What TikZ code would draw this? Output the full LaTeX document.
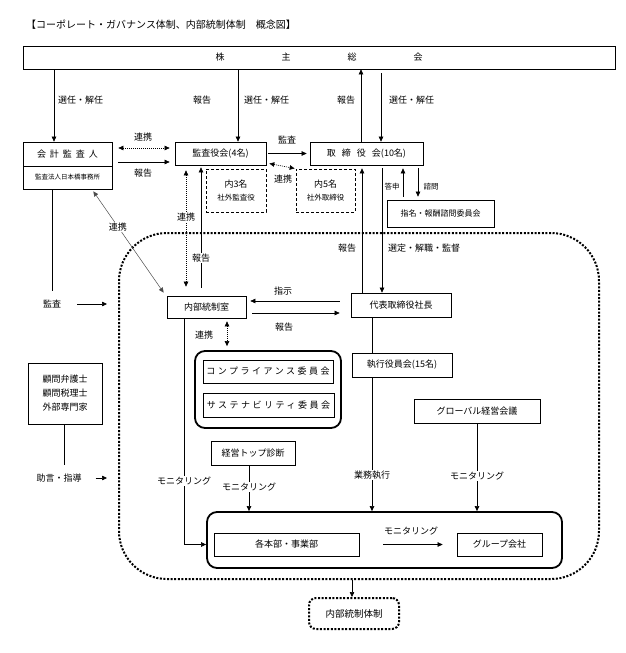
\documentclass[tikz,border=0pt]{standalone}
\usepackage{fontspec}
\setmainfont{Noto Sans CJK JP}
\newfontfamily\jpwide{Noto Sans CJK JP}[LetterSpace=28]
\usetikzlibrary{arrows.meta}

\tikzset{
  box/.style={draw, line width=0.7pt, inner sep=0pt, font=\fontsize{9}{11}\selectfont},
  dbox/.style={box, dash pattern=on 3pt off 2pt},
  grp/.style={draw, line width=1.8pt, rounded corners=10pt, inner sep=0pt},
  lbl/.style={font=\fontsize{9}{11}\selectfont, inner sep=1pt},
  wlbl/.style={lbl, fill=white, text=black},
  arr/.style={-{Triangle[length=5pt,width=4.5pt]}, line width=0.6pt},
  darr/.style={{Triangle[length=5pt,width=4.5pt]}-{Triangle[length=5pt,width=4.5pt]}, line width=0.6pt, dash pattern=on 1pt off 1pt},
  garr/.style={{Triangle[length=5pt,width=4.5pt]}-{Triangle[length=5pt,width=4.5pt]}, line width=0.5pt, gray!60!black},
  dotarea/.style={draw, line width=2pt, dash pattern=on 2pt off 1.6pt, inner sep=0pt},
}

\begin{document}
\begin{tikzpicture}[x=1pt, y=-1pt]
    \useasboundingbox (0,0) rectangle (625,653);

    % Title
    \node[anchor=west, inner sep=0pt, font=\fontsize{10}{12}\selectfont] (title) at (26,25)
        {【コーポレート・ガバナンス体制、内部統制体制　概念図】};

    % Shareholders
    \node[box, minimum width=592pt, minimum height=23pt] (sokai) at (319,57.5)
        {株\hspace{57pt}主\hspace{57pt}総\hspace{57pt}会};

    % Upper boxes
    \node[box, minimum width=89pt, minimum height=24pt] (kaikei) at (67.5,154)
        {会\hspace{4pt}計\hspace{4pt}監\hspace{4pt}査\hspace{4pt}人};
    \node[box, minimum width=89pt, minimum height=23pt, font=\fontsize{6.5}{8}\selectfont] (kaikeiho) at (67.5,177.5)
        {監査法人日本橋事務所};
    \node[box, minimum width=91pt, minimum height=23pt] (kansa) at (220.5,153.5) {監査役会(4名)};
    \node[box, minimum width=113pt, minimum height=23pt] (torishimari) at (366.5,153.5)
        {取\hspace{6pt}締\hspace{6pt}役\hspace{6pt}会(10名)};
    \node[dbox, minimum width=60pt, minimum height=43pt, align=center] (uchi3) at (236,190.5)
        {内3名\\[2pt]{\fontsize{7.5}{9}\selectfont 社外監査役}};
    \node[dbox, minimum width=59pt, minimum height=43pt, align=center] (uchi5) at (325.5,190.5)
        {内5名\\[2pt]{\fontsize{7.5}{9}\selectfont 社外取締役}};
    \node[box, minimum width=107pt, minimum height=27pt, font=\fontsize{8}{10}\selectfont] (shimei) at (440.5,213.5)
        {指名・報酬諮問委員会};

    % Internal control area
    \node[dotarea, rounded corners=48pt, minimum width=480pt, minimum height=346pt] (area) at (359,406) {};
    \node[box, minimum width=79pt, minimum height=22pt] (naibu) at (206.5,307) {内部統制室};
    \node[box, minimum width=100pt, minimum height=24pt] (daihyo) at (401,305) {代表取締役社長};
    \node[grp, minimum width=146pt, minimum height=77pt] (compgrp) at (268,389.5) {};
    \node[box, minimum width=130pt, minimum height=23pt] (comp) at (268,371.5) {\jpwide コンプライアンス委員会};
    \node[box, minimum width=131pt, minimum height=24pt] (sus) at (268.5,405) {\jpwide サステナビリティ委員会};
    \node[box, minimum width=100pt, minimum height=24pt] (shikko) at (402,365) {執行役員会(15名)};
    \node[box, minimum width=126pt, minimum height=24pt] (global) at (477,411) {グローバル経営会議};
    \node[box, minimum width=84pt, minimum height=24pt] (keiei) at (253,453) {経営トップ診断};
    \node[grp, minimum width=355pt, minimum height=56pt] (bizgrp) at (384.5,540) {};
    \node[box, minimum width=145pt, minimum height=23pt] (honbu) at (286.5,544.5) {各本部・事業部};
    \node[box, minimum width=85pt, minimum height=23pt] (groupco) at (499.5,544.5) {グループ会社};

    % Outside advisers
    \node[box, minimum width=74pt, minimum height=61pt, align=center] (komon) at (65,393.5)
        {顧問弁護士\\[3pt]顧問税理士\\[3pt]外部専門家};
    \node[dotarea, rounded corners=7pt, minimum width=90pt, minimum height=31pt, font=\fontsize{9.5}{11}\selectfont] (taisei) at (354,613.5)
        {内部統制体制};

    % Shareholders' arrows
    \draw[arr] (54,0 |- sokai.south) -- (54,0 |- kaikei.north);
    \node[lbl, anchor=west] at (57,100) {選任・解任};
    \node[lbl] at (202,100) {報告};
    \draw[arr] (238,0 |- sokai.south) -- (238,0 |- kansa.north);
    \node[lbl, anchor=west] at (243,100) {選任・解任};
    \draw[arr] (361,0 |- torishimari.north) -- (361,0 |- sokai.south);
    \node[lbl] at (346,100) {報告};
    \draw[arr, shorten <=4pt] (381,0 |- sokai.south) -- (381,0 |- torishimari.north);
    \node[lbl, anchor=west] at (388,100) {選任・解任};

    % Auditors and board
    \draw[darr, shorten <=6pt, shorten >=5pt] (kaikei.east |- 0,148) -- (kansa.west |- 0,148);
    \node[lbl] at (143,137) {連携};
    \draw[arr, shorten <=6pt, shorten >=5pt] (kaikei.east |- 0,162) -- (kansa.west |- 0,162);
    \node[lbl] at (143,173) {報告};
    \draw[arr, shorten <=2pt, shorten >=3pt] (kansa.east) -- (torishimari.west);
    \node[lbl] at (287,140) {監査};
    \draw[darr, shorten <=1pt, shorten >=1pt] ([xshift=2pt,yshift=2pt]kansa.south east) -- (uchi5.north west);
    \node[lbl] at (283,179) {連携};
    \draw[arr, shorten <=3pt, shorten >=3pt] (403,0 |- shimei.north) -- (403,0 |- torishimari.south);
    \node[lbl, font=\fontsize{7.5}{9}\selectfont] at (392,187) {答申};
    \draw[arr, shorten <=3pt, shorten >=3pt] (418,0 |- torishimari.south) -- (418,0 |- shimei.north);
    \node[lbl, font=\fontsize{7.5}{9}\selectfont] at (431,187) {諮問};
    \draw[arr, shorten >=3pt] (362,0 |- daihyo.north) -- (362,0 |- torishimari.south);
    \node[lbl] at (347,248) {報告};
    \draw[arr, shorten <=3pt] (382,0 |- torishimari.south) -- (382,0 |- daihyo.north);
    \node[lbl, anchor=west] at (387,248) {選定・解職・監督};

    % Internal audit office
    \draw[garr] ([xshift=-19pt,yshift=-2pt]kaikeiho.south east) -- ([xshift=-3pt,yshift=3pt]naibu.north west)
        node[wlbl, pos=0.35] {連携};
    \draw[darr, shorten <=5pt, shorten >=9pt] (186,0 |- kansa.south) -- (186,0 |- naibu.north)
        node[wlbl, pos=0.4] {連携};
    \draw[arr, shorten <=8pt, shorten >=2pt] (201,0 |- naibu.north) -- (201,0 |- kansa.south)
        node[wlbl, pos=0.29] {報告};
    \draw[arr, shorten <=11pt, shorten >=4pt] (daihyo.west |- 0,301) -- (naibu.east |- 0,301);
    \node[lbl] at (283,291) {指示};
    \draw[arr, shorten <=6pt, shorten >=11pt] (naibu.east |- 0,313) -- (daihyo.west |- 0,313);
    \node[lbl] at (284,327) {報告};
    \draw[darr, shorten <=3pt, shorten >=4pt] (227,0 |- naibu.south) -- (227,0 |- compgrp.north);
    \node[lbl] at (204,335) {連携};

    % Execution and monitoring
    \draw[line width=0.6pt] (372,0 |- daihyo.south) -- (372,0 |- shikko.north);
    \draw[arr] (372,0 |- shikko.south) -- (372,0 |- bizgrp.north) node[wlbl, pos=0.73] {業務執行};
    \draw[arr] (global.south) -- (global.south |- bizgrp.north) node[wlbl, pos=0.6] {モニタリング};
    \draw[arr] (249,0 |- keiei.south) -- (249,0 |- bizgrp.north) node[wlbl, pos=0.47] {モニタリング};
    \draw[arr] (184,0 |- naibu.south) |- (bizgrp.west |- honbu.west) node[wlbl, pos=0.36] {モニタリング};
    \draw[arr, shorten <=24pt, shorten >=14pt] (honbu.east) -- (groupco.west);
    \node[lbl] at (411,531) {モニタリング};

    % External side
    \node[lbl] (kansalbl) at (52,304) {監査};
    \draw[line width=0.6pt] (52,0 |- kaikeiho.south) -- ([yshift=8pt]kansalbl.north);
    \draw[arr] ([xshift=15pt]kansalbl.east) -- ([xshift=-11pt]area.west |- kansalbl);
    \node[lbl] (jogen) at (59,478) {助言・指導};
    \draw[line width=0.6pt, shorten >=8pt] (64,0 |- komon.south) -- (64,0 |- jogen.north);
    \draw[arr] ([xshift=13pt]jogen.east) -- ([xshift=-11pt]area.west |- jogen);

    % Result
    \draw[arr] (352,0 |- area.south) -- (352,0 |- taisei.north);
\end{tikzpicture}
\end{document}
